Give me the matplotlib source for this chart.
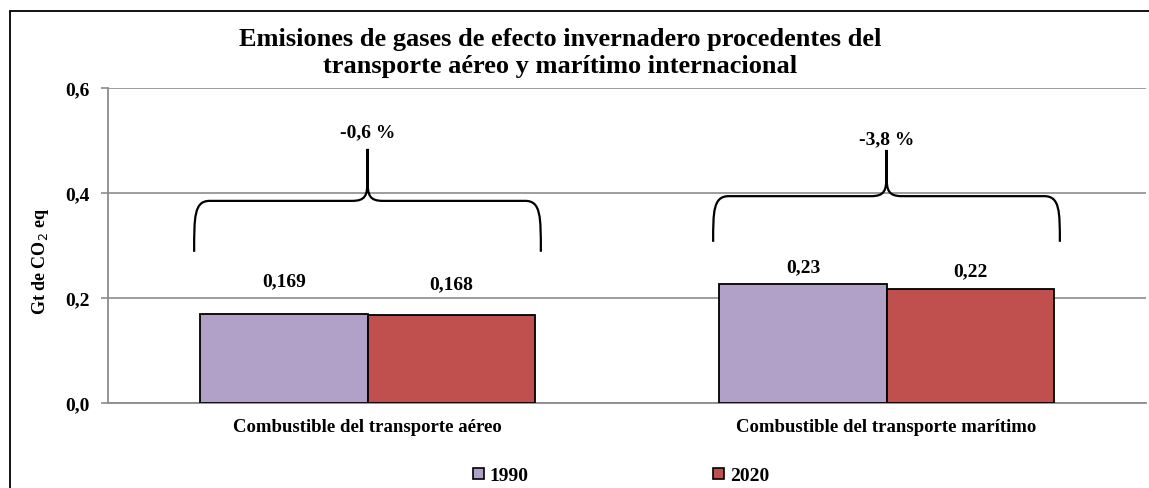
import matplotlib
matplotlib.use("Agg")
import matplotlib.pyplot as plt
from matplotlib.path import Path
from matplotlib.patches import PathPatch, Rectangle, Patch
import numpy as np

plt.rcParams['font.family'] = ['Liberation Serif', 'DejaVu Serif']

categories = ["Combustible del transporte aéreo", "Combustible del transporte marítimo"]
years = ["1990", "2020"]
values_1990 = [0.169, 0.227]
values_2020 = [0.168, 0.218]
bar_labels_1990 = ["0,169", "0,23"]
bar_labels_2020 = ["0,168", "0,22"]
change_labels = ["-0,6 %", "-3,8 %"]
yticks = [0.0, 0.2, 0.4, 0.6]
ytick_labels = ["0,0", "0,2", "0,4", "0,6"]

colors = ["#b1a0c7", "#c0504d"]

W, H = 1149, 489
fig = plt.figure(figsize=(W / 100, H / 100), dpi=100)
ax = fig.add_axes([108 / W, 1 - 404 / H, (1146 - 108) / W, (404 - 89) / H])

x = np.arange(len(categories))
bw = 0.322
ax.bar(x - bw / 2, values_1990, bw, color=colors[0], edgecolor="black", linewidth=1.3, zorder=3)
ax.bar(x + bw / 2, values_2020, bw, color=colors[1], edgecolor="black", linewidth=1.3, zorder=3)

ax.set_xlim(-0.5, 1.5)
ax.set_ylim(0, 0.6)
ax.set_yticks(yticks)
ax.set_yticklabels(ytick_labels, fontsize=14, fontweight="bold")
ax.set_xticks(x)
ax.set_xticklabels(categories, fontsize=13.5, fontweight="bold")
ax.tick_params(axis="x", length=0, pad=11)
ax.tick_params(axis="y", length=5, color="#8c8c8c", width=1.2, pad=8)
ax.yaxis.grid(True, color="#8c8c8c", linewidth=1.2, zorder=0)
ax.set_axisbelow(True)
for s in ["top", "right"]:
    ax.spines[s].set_visible(False)
for s in ["left", "bottom"]:
    ax.spines[s].set_color("#8c8c8c")
    ax.spines[s].set_linewidth(1.3)
ax.set_ylabel("Gt de CO$_2$ eq", fontsize=13, fontweight="bold")
ax.yaxis.set_label_coords((51 - 108) / 1038, 0.454)

# bar value labels
lab_off_1990 = [0.063, 0.032]
lab_off_2020 = [0.059, 0.033]
for i in range(len(categories)):
    ax.text(x[i] - bw / 2, values_1990[i] + lab_off_1990[i], bar_labels_1990[i], ha="center", va="center",
            fontsize=14, fontweight="bold", zorder=5,
            bbox=dict(facecolor="white", edgecolor="none", pad=1.5))
    ax.text(x[i] + bw / 2, values_2020[i] + lab_off_2020[i], bar_labels_2020[i], ha="center", va="center",
            fontsize=14, fontweight="bold", zorder=5,
            bbox=dict(facecolor="white", edgecolor="none", pad=1.5))


def brace(ax, x0, x1, y_tip, y_h, y_cusp):
    xc = (x0 + x1) / 2
    dx = 0.03
    dc = 0.03
    verts = [
        (x0, y_tip), (x0, y_h - 0.03), (x0, y_h), (x0 + dx, y_h),
        (xc - dc, y_h),
        (xc - 0.004, y_h), (xc, y_h + 0.01), (xc, y_h + 0.04),
        (xc, y_cusp),
        (xc, y_h + 0.04),
        (xc, y_h + 0.01), (xc + 0.004, y_h), (xc + dc, y_h),
        (x1 - dx, y_h),
        (x1, y_h), (x1, y_h - 0.03), (x1, y_tip),
    ]
    codes = [Path.MOVETO, Path.CURVE4, Path.CURVE4, Path.CURVE4,
             Path.LINETO,
             Path.CURVE4, Path.CURVE4, Path.CURVE4,
             Path.LINETO,
             Path.LINETO,
             Path.CURVE4, Path.CURVE4, Path.CURVE4,
             Path.LINETO,
             Path.CURVE4, Path.CURVE4, Path.CURVE4]
    ax.add_patch(PathPatch(Path(verts, codes), facecolor="none", edgecolor="black", linewidth=1.6, zorder=4))
    return xc


brace_geom = [(0.288, 0.385, 0.484, 0.516), (0.307, 0.394, 0.482, 0.503)]
for i in range(len(categories)):
    y_tip, y_h, y_cusp, y_txt = brace_geom[i]
    xc = brace(ax, x[i] - 0.334, x[i] + 0.334, y_tip, y_h, y_cusp)
    ax.text(xc, y_txt, change_labels[i], ha="center", va="center", fontsize=14, fontweight="bold")

fig.text(560 / W, 1 - 53 / H,
         "Emisiones de gases de efecto invernadero procedentes del\ntransporte aéreo y marítimo internacional",
         ha="center", va="center", fontsize=19, fontweight="bold", linespacing=1.25)

handles = [Patch(facecolor=colors[0], edgecolor="black", linewidth=1.2),
           Patch(facecolor=colors[1], edgecolor="black", linewidth=1.2)]
fig.legend(handles, years, loc="center", bbox_to_anchor=(621 / W, 1 - 477 / H), ncol=2,
           frameon=False, handlelength=0.55, handleheight=0.55, handletextpad=0.3,
           columnspacing=9.5, prop=dict(weight="bold", size=14))

# outer border (chart area frame, cut at right and bottom)
fig.add_artist(Rectangle((10 / W, -0.05), 1.2, 1 - 12 / H + 0.05, transform=fig.transFigure,
                         facecolor="none", edgecolor="black", linewidth=1.3))

fig.savefig("out.png", dpi=100)
